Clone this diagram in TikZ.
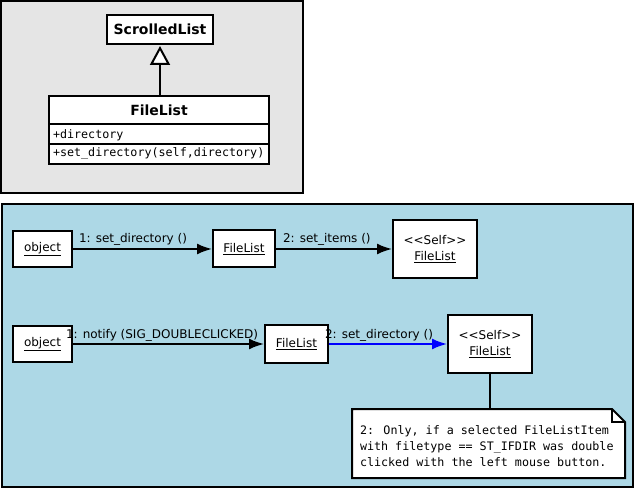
\documentclass[tikz,border=0pt]{standalone}
\usepackage{fontspec}
\setmainfont{DejaVu Sans}
\newfontfamily\monofont{DejaVu Sans Mono}
\usetikzlibrary{arrows.meta}
\definecolor{panelgray}{HTML}{E5E5E5}
\definecolor{panelblue}{HTML}{ADD8E6}
\begin{document}
\begin{tikzpicture}[x=1pt,y=-1pt,line width=2pt,font=\fontsize{12}{16}\selectfont,
	obj/.style={draw,fill=white,inner sep=0pt,align=center},
	cname/.style={font=\bfseries\fontsize{14}{16}\selectfont},
	msg/.style={-{Latex[length=15pt,width=11pt]}},
	lbl/.style={anchor=base west,inner sep=0pt},
	mono/.style={font=\monofont\fontsize{11.7}{16}\selectfont,inner sep=0pt}]
	\useasboundingbox (0,0) rectangle (635,489);
	
	\draw[fill=panelgray] (1,1) rectangle (303,193);
	\draw[fill=panelblue] (2,204) rectangle (633,487);
	
	% class diagram
	\node[obj,cname,minimum width=106pt,minimum height=29pt] (scrolled) at (160,29.5) {ScrolledList};
	\node[obj,minimum width=220pt,minimum height=68pt] (cls) at (159,130) {};
	\draw (cls.west |- 0,124) -- (cls.east |- 0,124);
	\draw (cls.west |- 0,144) -- (cls.east |- 0,144);
	\node[cname] (clsname) at (159,110.5) {FileList};
	\node[mono,anchor=west] (attr) at (52,135.5) {+directory};
	\node[mono,anchor=west] (meth) at (52,153.5) {+set\_directory(self,directory)};
	\draw[-{Triangle[length=19pt,width=20pt,fill=white]},shorten >=1pt] (cls.north -| scrolled) -- (scrolled);
	
	% collaboration, first case
	\node[obj,minimum width=59pt,minimum height=36pt] (obj1) at (42.5,249) {\underline{object}};
	\node[obj,minimum width=62pt,minimum height=37pt] (fl1) at (244,249) {\underline{FileList}};
	\node[obj,minimum width=84pt,minimum height=58pt] (self1) at (435,249) {<\kern0pt<Self>\kern0pt>\\\underline{FileList}};
	\draw[msg] (obj1) -- node[lbl,pos=0,xshift=5pt,yshift=6pt] (l1) {1: set\_directory ()} (fl1);
	\draw[msg] (fl1) -- node[lbl,pos=0,xshift=6pt,yshift=6pt] (l2) {2: set\_items ()} (self1);
	
	% collaboration, second case
	\node[obj,minimum width=59pt,minimum height=36pt] (obj2) at (42.5,344) {\underline{object}};
	\node[obj,minimum width=63pt,minimum height=37pt] (fl2) at (296.5,344) {\underline{FileList}};
	\node[obj,minimum width=84pt,minimum height=57pt] (self2) at (490,344) {<\kern0pt<Self>\kern0pt>\\\underline{FileList}};
	\draw[msg] (obj2) -- node[lbl,pos=0,xshift=-8pt,yshift=6pt] (l3) {1: notify (SIG\_DOUBLECLICKED)} (fl2);
	\draw[msg,blue] (fl2) -- node[lbl,pos=0,xshift=-5pt,yshift=6pt,text=black] (l4) {2: set\_directory ()} (self2);
	
	% note
	\node[minimum width=271pt,minimum height=67pt,inner sep=0pt] (note) at (488.5,443.5) {};
	\draw[fill=white] (note.north west) -- ([xshift=-13pt]note.north east) -- ([yshift=-13pt]note.north east)
		-- (note.south east) -- (note.south west) -- cycle;
	\draw ([xshift=-13pt]note.north east) |- ([yshift=-13pt]note.north east);
	\node[mono,anchor=north west,align=left] (notetext) at ([xshift=7pt,yshift=-16pt]note.north west)
		{2: Only, if a selected FileListItem\\with filetype == ST\_IFDIR was double\\clicked with the left mouse button.};
	\draw (self2.south) -- (self2.south |- note.north);
\end{tikzpicture}
\end{document}
